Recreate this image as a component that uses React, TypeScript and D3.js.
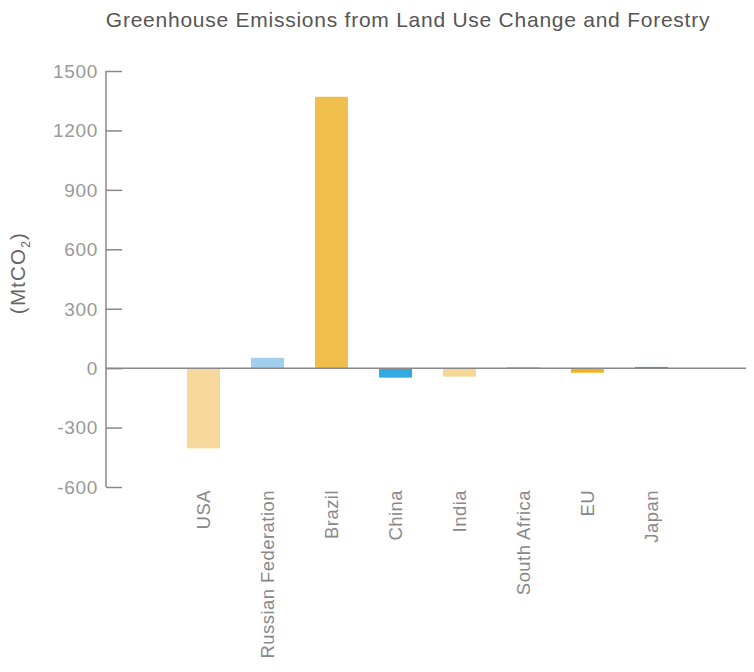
import * as d3 from "d3"
import { useRef, useEffect } from "react"

const countries = ["USA", "Russian Federation", "Brazil", "China", "India", "South Africa", "EU", "Japan"]
const emissions = [-405, 52, 1370, -48, -43, 5, -23, 6]
const barColors = ["#F7D89C", "#A3CFEE", "#F0BE4C", "#34A9E1", "#F7D594", "#9CC5E6", "#F0B31B", "#2C9BD3"]
const yTicks = [-600, -300, 0, 300, 600, 900, 1200, 1500]

const W = 754
const H = 672

export default function App() {
  const svgRef = useRef<SVGSVGElement>(null)

  useEffect(() => {
    if (!svgRef.current) return
    const svg = d3.select(svgRef.current)
    svg.selectAll("*").remove()

    const font = "'Liberation Sans', Arial, sans-serif"
    const axisX = 106
    const rightX = 747

    const y = d3.scaleLinear().domain([-600, 1500]).range([487, 71])
    const x = d3
      .scaleBand()
      .domain(countries)
      .range([171.5, 683.5])
      .paddingInner(0.484)
      .paddingOuter(0.242)

    // title
    svg
      .append("text")
      .attr("x", 408)
      .attr("y", 27)
      .attr("text-anchor", "middle")
      .style("font-family", font)
      .style("font-size", "21px")
      .style("letter-spacing", "0.75px")
      .style("fill", "#555")
      .text("Greenhouse Emissions from Land Use Change and Forestry")

    // bars
    svg
      .append("g")
      .selectAll("rect")
      .data(emissions)
      .enter()
      .append("rect")
      .attr("x", (_, i) => x(countries[i]) || 0)
      .attr("width", x.bandwidth())
      .attr("y", (d) => y(Math.max(0, d)))
      .attr("height", (d) => Math.abs(y(d) - y(0)))
      .attr("fill", (_, i) => barColors[i])

    // y axis
    const yAxis = svg
      .append("g")
      .attr("transform", `translate(${axisX},0)`)
      .call(d3.axisRight(y).tickValues(yTicks).tickSize(16).tickFormat(() => ""))
    yAxis.select(".domain").remove()
    yAxis.selectAll("line").attr("stroke", "#888").attr("stroke-width", 1.5)

    svg
      .append("line")
      .attr("x1", axisX)
      .attr("x2", axisX)
      .attr("y1", y(1500))
      .attr("y2", y(-600))
      .attr("stroke", "#888")
      .attr("stroke-width", 1.5)

    svg
      .append("g")
      .selectAll("text")
      .data(yTicks)
      .enter()
      .append("text")
      .attr("x", 98)
      .attr("y", (d) => y(d))
      .attr("dy", "0.36em")
      .attr("text-anchor", "end")
      .style("font-family", font)
      .style("font-size", "19px")
      .style("letter-spacing", "0.7px")
      .style("fill", "#999")
      .text((d) => d)

    // zero line
    svg
      .append("path")
      .attr("d", `M${axisX},${y(0)}H${rightX}V${y(0) - 11}`)
      .attr("fill", "none")
      .attr("stroke", "#888")
      .attr("stroke-width", 1.5)

    // y label
    const yl = svg
      .append("text")
      .attr("transform", `translate(25,273) rotate(-90)`)
      .attr("text-anchor", "middle")
      .style("font-family", font)
      .style("font-size", "20.5px")
      .style("letter-spacing", "1.2px")
      .style("fill", "#666")
    yl.append("tspan").text("(MtCO")
    yl.append("tspan").attr("dy", 5).style("font-size", "12px").text("2")
    yl.append("tspan").attr("dy", -5).text(")")

    // x labels
    svg
      .append("g")
      .selectAll("text")
      .data(countries)
      .enter()
      .append("text")
      .attr("transform", (d) => `translate(${(x(d) || 0) + x.bandwidth() / 2},490) rotate(-90)`)
      .attr("text-anchor", "end")
      .attr("dy", "0.36em")
      .style("font-family", font)
      .style("font-size", "18.5px")
      .style("letter-spacing", "0.45px")
      .style("fill", "#888")
      .text((d) => d)
  }, [])

  return (
    <div style={{ width: W, height: H, margin: -8 }}>
      <svg ref={svgRef} width={W} height={H} style={{ display: "block", background: "#fff" }}></svg>
    </div>
  )
}
